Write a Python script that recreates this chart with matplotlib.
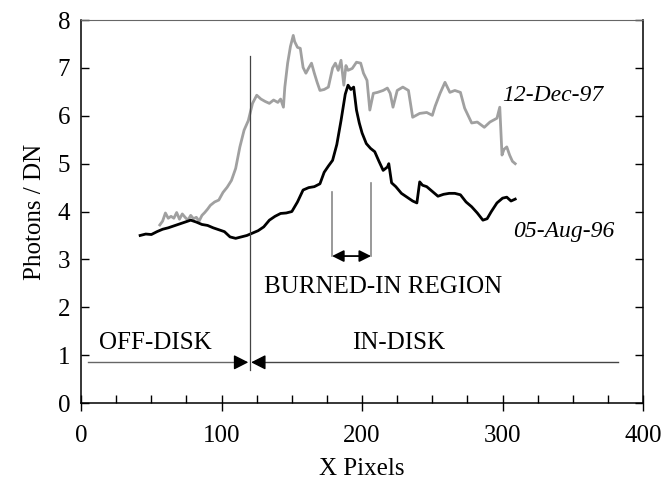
import matplotlib.pyplot as plt
from matplotlib.ticker import MultipleLocator

plt.rcParams['font.family'] = ['Liberation Serif', 'DejaVu Serif']

# 05-Aug-96 (black)
aug_x = [42, 46, 50, 54, 58, 62, 66, 70, 74, 78,
         82, 86, 90, 94, 98, 102, 106, 110, 114, 118,
         122, 126, 130, 134, 138, 142, 146, 150, 154, 158,
         162, 166, 170, 173, 176, 179, 182, 185, 188, 190,
         192, 194, 196, 198, 200, 203, 206, 209, 212, 215,
         218, 219, 221, 224, 228, 232, 236, 239, 241, 243,
         246, 250, 254, 258, 262, 266, 270, 274, 278, 282,
         286, 289, 292, 296, 300, 303, 306, 309]
aug_y = [3.50, 3.53, 3.52, 3.58, 3.63, 3.66, 3.70, 3.74, 3.78, 3.82,
         3.78, 3.73, 3.71, 3.66, 3.62, 3.58, 3.47, 3.44, 3.47, 3.50,
         3.55, 3.60, 3.68, 3.82, 3.90, 3.96, 3.97, 4.00, 4.20, 4.45,
         4.50, 4.52, 4.58, 4.82, 4.95, 5.07, 5.40, 5.90, 6.45, 6.64,
         6.55, 6.60, 6.12, 5.85, 5.64, 5.42, 5.32, 5.25, 5.05, 4.86,
         4.93, 5.00, 4.60, 4.52, 4.38, 4.30, 4.22, 4.18, 4.62, 4.55,
         4.52, 4.42, 4.32, 4.36, 4.38, 4.38, 4.35, 4.20, 4.10, 3.97,
         3.82, 3.85, 4.00, 4.18, 4.28, 4.30, 4.22, 4.26]

# 12-Dec-97 (gray)
dec_x = [56, 58, 60, 62, 64, 66, 68, 70, 72, 74,
         76, 78, 80, 82, 84, 86, 88, 90, 92, 95,
         98, 101, 104, 107, 110, 113, 116, 119, 122, 125,
         128, 131, 134, 137, 140, 142, 144, 145, 147, 149,
         151, 152, 154, 156, 158, 160, 162, 164, 166, 168,
         170, 173, 176, 179, 181, 183, 185, 187, 188.5, 190,
         193, 196, 199, 201, 203.5, 205.5, 208, 211, 215, 218,
         220, 222, 225, 229, 233, 236, 241, 246, 250, 252,
         255.5, 259, 262.5, 266, 270, 273, 278, 282, 287, 291,
         296, 298, 299.6, 301, 303, 305, 307, 309]
dec_y = [3.72, 3.80, 3.97, 3.86, 3.90, 3.86, 3.98, 3.84, 3.95, 3.88,
         3.82, 3.92, 3.85, 3.88, 3.80, 3.92, 3.98, 4.05, 4.13, 4.20,
         4.24, 4.40, 4.51, 4.65, 4.90, 5.35, 5.70, 5.90, 6.26, 6.43,
         6.35, 6.30, 6.26, 6.33, 6.28, 6.35, 6.18, 6.60, 7.10, 7.45,
         7.68, 7.55, 7.43, 7.41, 7.01, 6.89, 7.00, 7.10, 6.89, 6.70,
         6.53, 6.55, 6.60, 7.00, 7.10, 6.95, 7.16, 6.64, 7.05, 6.95,
         6.99, 7.12, 7.10, 6.89, 6.74, 6.12, 6.47, 6.49, 6.53, 6.58,
         6.47, 6.18, 6.53, 6.60, 6.53, 5.97, 6.05, 6.07, 6.01, 6.20,
         6.47, 6.70, 6.49, 6.53, 6.49, 6.16, 5.85, 5.87, 5.76, 5.87,
         5.95, 6.18, 5.18, 5.30, 5.35, 5.18, 5.05, 5.00]

disk_edge = 120
burn_lo, burn_hi = 178.6, 206.4

fig = plt.figure(figsize=(6.65, 4.96), dpi=100)
ax = fig.add_axes([0.122, 0.1875, 0.845, 0.772])

ax.plot(dec_x, dec_y, color='#a0a0a0', lw=2.0)
ax.plot(aug_x, aug_y, color='black', lw=2.0)

# disk boundary and arrows
ax.plot([disk_edge, disk_edge], [0.69, 7.25], color='#444444', lw=0.9)
ax.plot([5, disk_edge - 4], [0.85, 0.85], color='#666666', lw=1.0)
ax.plot([disk_edge + 4, 382], [0.85, 0.85], color='#444444', lw=1.0)
for start, end in [(disk_edge - 10, disk_edge - 1), (disk_edge + 10, disk_edge + 1)]:
    ax.annotate('', xy=(end, 0.85), xytext=(start, 0.85),
                arrowprops=dict(arrowstyle='-|>,head_length=0.55,head_width=0.28',
                                color='black', lw=1.0, mutation_scale=16,
                                shrinkA=0, shrinkB=0))
ax.text(13, 1.02, 'OFF-DISK', fontsize=18, va='bottom')
ax.text(193, 1.02, 'IN-DISK', fontsize=18, va='bottom')

# burned-in region bracket
ax.plot([burn_lo, burn_lo], [3.07, 4.4], color='#888888', lw=1.2)
ax.plot([burn_hi, burn_hi], [3.07, 4.6], color='#888888', lw=1.2)
ax.annotate('', xy=(burn_hi, 3.07), xytext=(burn_lo, 3.07),
            arrowprops=dict(arrowstyle='<|-|>,head_length=0.5,head_width=0.25',
                            color='black', lw=1.3, mutation_scale=14,
                            shrinkA=0, shrinkB=0))
ax.text(215, 2.42, 'BURNED-IN REGION', fontsize=18, ha='center', va='center')

ax.text(299.5, 6.43, '12-Dec-97', fontsize=17, style='italic', va='center')
ax.text(307.5, 3.59, '05-Aug-96', fontsize=17, style='italic', va='center')

ax.set_xlim(0, 400)
ax.set_ylim(0, 8)
ax.xaxis.set_major_locator(MultipleLocator(100))
ax.xaxis.set_minor_locator(MultipleLocator(25))
ax.yaxis.set_major_locator(MultipleLocator(1))
ax.tick_params(axis='x', which='major', direction='inout', length=12, width=1,
               labelsize=18, pad=10)
ax.tick_params(axis='x', which='minor', direction='in', length=6, width=1)
ax.tick_params(axis='y', which='major', direction='in', length=6, width=1,
               labelsize=18, right=True, pad=8)
for side in ['left', 'bottom', 'right']:
    ax.spines[side].set_linewidth(1.1)
ax.spines['top'].set_color('#666666')

ax.set_xlabel('X Pixels', fontsize=18, labelpad=8)
ax.set_ylabel('Photons / DN', fontsize=18, labelpad=8)

fig.savefig('out.png', dpi=100)
